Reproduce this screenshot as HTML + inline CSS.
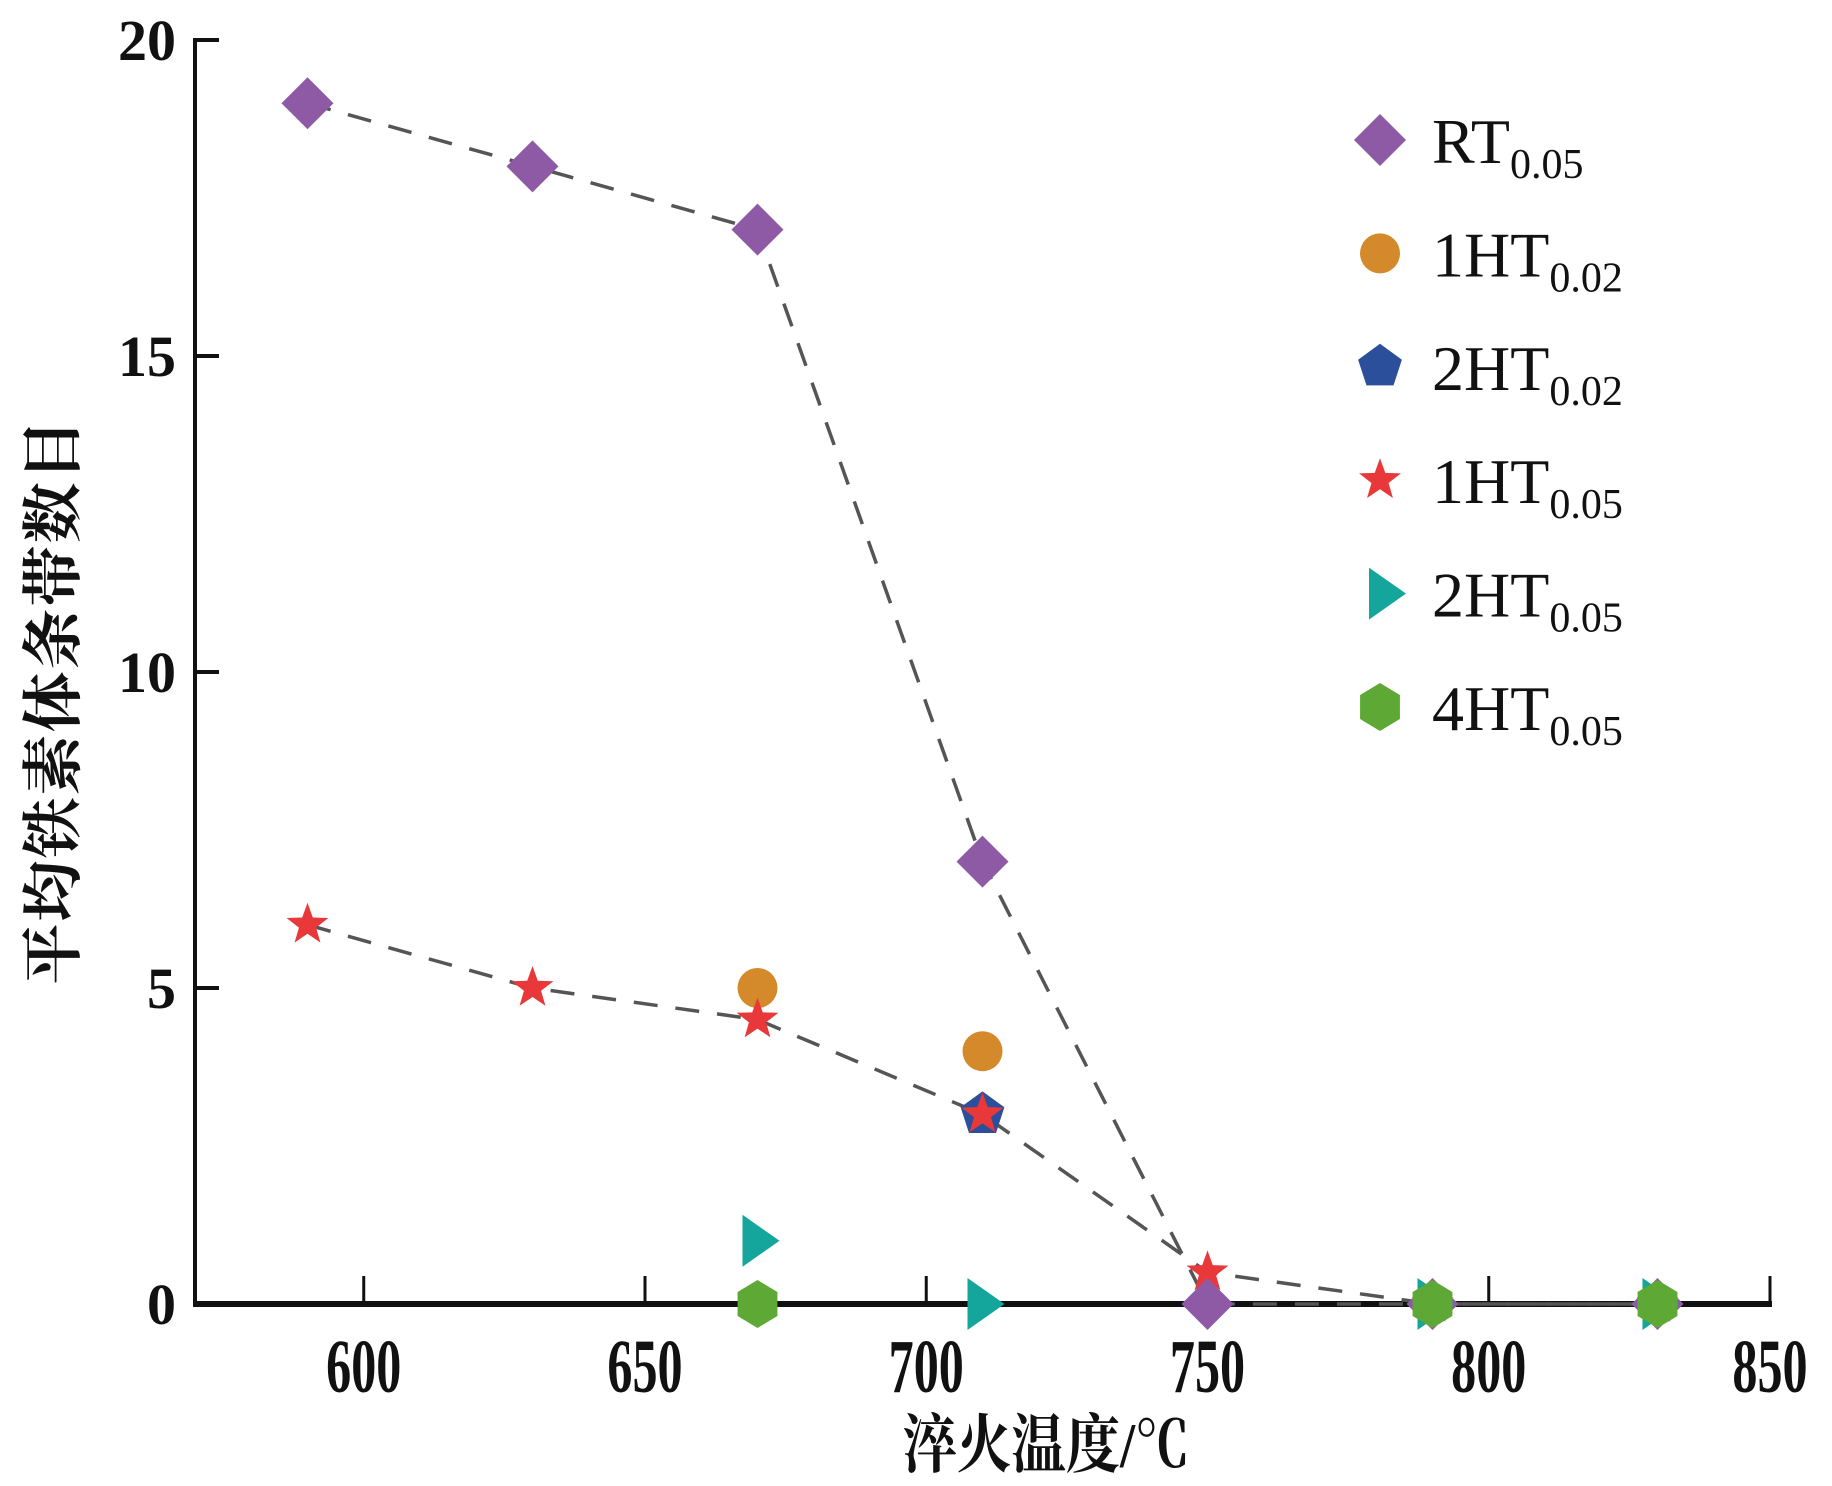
<!DOCTYPE html>
<html><head><meta charset="utf-8">
<style>
html,body{margin:0;padding:0;background:#fff;}
svg{display:block;}
</style></head>
<body>
<svg id="chart" width="1832" height="1486" viewBox="0 0 1832 1486" xmlns="http://www.w3.org/2000/svg"></svg>
<script>
const xTicks = [600, 650, 700, 750, 800, 850];
const yTicks = [0, 5, 10, 15, 20];
const rtX = [590, 630, 670, 710, 750, 790, 830];
const rtY = [19, 18, 17, 7, 0, 0, 0];
const ht1_05X = [590, 630, 670, 710, 750, 790, 830];
const ht1_05Y = [6, 5, 4.5, 3, 0.5, 0, 0];
const ht1_02X = [670, 710];
const ht1_02Y = [5, 4];
const ht2_02X = [710];
const ht2_02Y = [3];
const ht2_05X = [670, 710, 790, 830];
const ht2_05Y = [1, 0, 0, 0];
const ht4_05X = [670, 790, 830];
const ht4_05Y = [0, 0, 0];

const NS = 'http://www.w3.org/2000/svg';
const svg = document.getElementById('chart');
const X0 = 570, X1 = 850, PX0 = 195, PX1 = 1770;
const Y0 = 0, Y1 = 20, PY0 = 1304, PY1 = 40;
function sx(v){ return PX0 + (v - X0) / (X1 - X0) * (PX1 - PX0); }
function sy(v){ return PY0 + (v - Y0) / (Y1 - Y0) * (PY1 - PY0); }
function mk(tag, attrs, parent){
  const e = document.createElementNS(NS, tag);
  for (const k in attrs) e.setAttribute(k, attrs[k]);
  (parent || svg).appendChild(e);
  return e;
}
const serif = '"Liberation Serif", "Noto Serif CJK SC", serif';

let yAxis = mk('line', {x1: PX0, y1: PY1 - 2, x2: PX0, y2: PY0, stroke: '#111', 'stroke-width': 4});


let xAxis = mk('line', {x1: PX0 - 2, y1: PY0, x2: PX1 + 2, y2: PY0, stroke: '#111', 'stroke-width': 6});



yTicks.forEach(v => {
  const t = mk('line', {x1: PX0, y1: sy(v), x2: PX0 + 24, y2: sy(v), stroke: '#111', 'stroke-width': 4});
  
  
  const l = mk('text', {x: 176, y: sy(v) + 20, 'text-anchor': 'end', 'font-family': serif, 'font-size': 58, 'font-weight': 'bold', fill: '#111'});
  l.textContent = v;
  
  
});
xTicks.forEach(v => {
  const t = mk('line', {x1: sx(v), y1: PY0, x2: sx(v), y2: PY0 - 28, stroke: '#111', 'stroke-width': 3});
  
  
  const l = mk('text', {x: 0, y: 0, 'text-anchor': 'middle', 'font-family': serif, 'font-size': 76, 'font-weight': 'bold', fill: '#111',
    transform: 'translate(' + sx(v) + ',1392) scale(0.66,1)'});
  l.textContent = v;
  
  
});

const xt = mk('text', {x: 0, y: 0, 'text-anchor': 'middle', 'font-family': serif, 'font-size': 64, 'font-weight': 'bold', fill: '#111',
  transform: 'translate(1046,1467) scale(0.85,1)'});
xt.textContent = '淬火温度/℃';


const yt = mk('text', {x: 0, y: 0, 'text-anchor': 'middle', 'font-family': serif, 'font-size': 61, 'font-weight': 'bold', fill: '#111', 'letter-spacing': 2,
  transform: 'translate(74,701) rotate(-90)'});
yt.textContent = '平均铁素体条带数目';



function dashLine(xs, ys, name){
  const pts = xs.map((x, i) => sx(x) + ',' + sy(ys[i])).join(' ');
  const p = mk('polyline', {points: pts, fill: 'none', stroke: '#555', 'stroke-width': 3.5, 'stroke-dasharray': '24 18'});
  
  
}
dashLine(rtX, rtY, 'rt-0.05-trend-line');
dashLine(ht1_05X, ht1_05Y, '1ht-0.05-trend-line');

const C = {rt: '#8e5aa6', o: '#d4892a', b: '#2b4f9a', r: '#e8383a', t: '#14a59d', g: '#5ea835'};
function shape(type, cx, cy, g){
  if (type === 'diamond') return mk('polygon', {points: [[cx, cy - 26], [cx + 26, cy], [cx, cy + 26], [cx - 26, cy]].join(' '), fill: C.rt}, g);
  if (type === 'circle') return mk('circle', {cx: cx, cy: cy, r: 20, fill: C.o}, g);
  if (type === 'pentagon' || type === 'star') {
    const pts = []; const n = type === 'star' ? 10 : 5;
    for (let i = 0; i < n; i++) {
      const a = -Math.PI / 2 + i * 2 * Math.PI / n;
      const r = type === 'star' ? (i % 2 ? 9 : 22) : 23;
      pts.push([cx + r * Math.cos(a), cy + r * Math.sin(a)]);
    }
    return mk('polygon', {points: pts.join(' '), fill: type === 'star' ? C.r : C.b}, g);
  }
  if (type === 'triangle') return mk('polygon', {points: [[cx - 15, cy - 26], [cx + 22, cy], [cx - 15, cy + 26]].join(' '), fill: C.t}, g);
  if (type === 'hexagon') {
    const pts = [];
    for (let i = 0; i < 6; i++) { const a = Math.PI / 2 + i * Math.PI / 3; pts.push([cx + 23 * Math.cos(a), cy + 24 * Math.sin(a)]); }
    return mk('polygon', {points: pts.join(' '), fill: C.g}, g);
  }
}
function series(xs, ys, type, name){
  const g = mk('g', {});
  
  
  xs.forEach((x, i) => {
    const s = shape(type, sx(x), sy(ys[i]), g);
    
    
  });
}
series(ht1_02X, ht1_02Y, 'circle', '1ht-0.02-series');
series(ht2_02X, ht2_02Y, 'pentagon', '2ht-0.02-series');
series(ht1_05X, ht1_05Y, 'star', '1ht-0.05-series');
series(rtX, rtY, 'diamond', 'rt-0.05-series');
series(ht2_05X, ht2_05Y, 'triangle', '2ht-0.05-series');
series(ht4_05X, ht4_05Y, 'hexagon', '4ht-0.05-series');

const legMain = ['RT', '1HT', '2HT', '1HT', '2HT', '4HT'];
const legSub = ['0.05', '0.02', '0.02', '0.05', '0.05', '0.05'];
const legShape = ['diamond', 'circle', 'pentagon', 'star', 'triangle', 'hexagon'];
const lg = mk('g', {});


legMain.forEach((m, i) => {
  const y = 140 + i * 113.4;
  const s = shape(legShape[i], legShape[i] === 'triangle' ? 1384 : 1380, y, lg);
  
  
  const t = mk('text', {x: 1432, y: y + 23, 'font-family': serif, 'font-size': 64, fill: '#111'}, lg);
  
  
  const a = mk('tspan', {}, t); a.textContent = m;
  const b = mk('tspan', {'font-size': 42, dy: 15}, t); b.textContent = legSub[i];
});
</script>
</body></html>
